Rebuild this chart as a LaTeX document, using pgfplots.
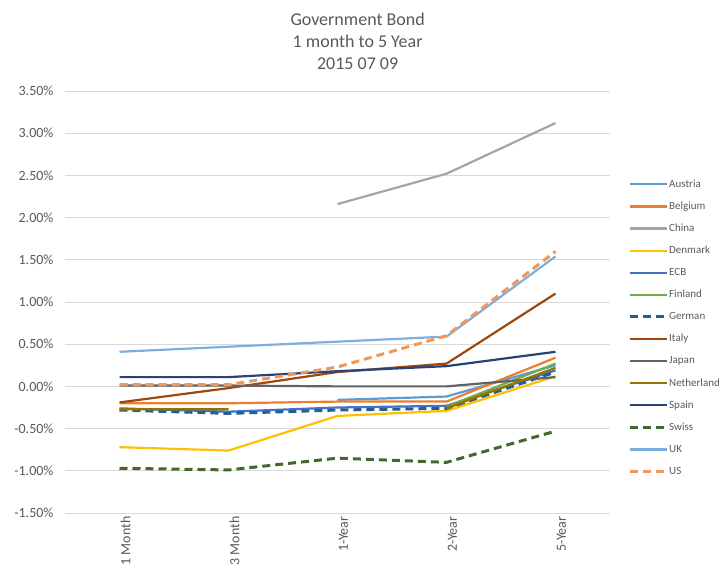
\documentclass[border=0pt]{standalone}
\usepackage{pgfplots}
\pgfplotsset{compat=1.18}
\usepackage{pgfplotstable}
\usepackage{fontspec}
\setmainfont{Carlito}
\definecolor{textgray}{HTML}{595959}
\definecolor{gridgray}{HTML}{D9D9D9}
\definecolor{cAustria}{HTML}{5B9BD5}
\definecolor{cBelgium}{HTML}{ED7D31}
\definecolor{cChina}{HTML}{A5A5A5}
\definecolor{cDenmark}{HTML}{FFC000}
\definecolor{cECB}{HTML}{4472C4}
\definecolor{cFinland}{HTML}{70AD47}
\definecolor{cGerman}{HTML}{255E91}
\definecolor{cItaly}{HTML}{9E480E}
\definecolor{cJapan}{HTML}{636363}
\definecolor{cNetherland}{HTML}{997300}
\definecolor{cSpain}{HTML}{264478}
\definecolor{cSwiss}{HTML}{43682B}
\definecolor{cUK}{HTML}{7CAFDD}
\definecolor{cUS}{HTML}{F1975A}
\pgfplotstableread{
x Austria Belgium China Denmark ECB Finland German Italy Japan Netherland Spain Swiss UK US
0 nan -0.20 nan -0.72 -0.26 nan -0.28 -0.19 0.01 -0.27 0.11 -0.97 0.41 0.02
1 nan -0.20 nan -0.76 -0.30 nan -0.32 -0.02 0.01 -0.27 0.11 -0.99 0.47 0.02
2 -0.16 -0.18 2.16 -0.35 -0.25 nan -0.28 0.17 0.00 nan 0.18 -0.85 0.53 0.23
3 -0.12 -0.18 2.52 -0.29 -0.23 -0.24 -0.26 0.27 0.00 -0.26 0.24 -0.90 0.59 0.60
4 0.25 0.34 3.12 0.12 0.19 0.27 0.17 1.10 0.11 0.22 0.41 -0.53 1.54 1.60
}\datatable
\begin{document}
\begin{tikzpicture}
\useasboundingbox (0,0) rectangle (723pt,569pt);
\begin{axis}[
  at={(65pt,56pt)}, anchor=south west,
  scale only axis, width=545pt, height=422pt,
  xmin=-0.5, xmax=4.5, ymin=-1.5, ymax=3.5,
  xtick={0,1,2,3,4},
  xticklabels={1 Month,3 Month,1-Year,2-Year,5-Year},
  ytick={-1.5,-1,-0.5,0,0.5,1,1.5,2,2.5,3,3.5},
  yticklabel={\pgfmathprintnumber[fixed,fixed zerofill,precision=2,assume math mode=true]{\tick}\%},
  yticklabel style={font=\fontsize{14}{14}\selectfont, text=textgray, xshift=-8pt},
  xticklabel style={font=\fontsize{14}{14}\selectfont, text=textgray, rotate=90, anchor=east, yshift=-6pt},
  major tick length=0pt,
  axis line style={draw=none},
  ymajorgrids, grid style={gridgray, line width=0.9pt},
  unbounded coords=jump,
  title={Government Bond\\1 month to 5 Year\\2015 07 09},
  title style={at={(rel axis cs:0.537,1)}, anchor=south, yshift=12pt, align=center, font=\fontsize{18}{22}\selectfont, text=textgray},
  legend cell align=left,
  legend image code/.code={\draw[#1] (0pt,0pt) -- (37pt,0pt);},
  legend style={at={(1.033,0.794)}, anchor=north west, draw=none, fill=none, inner sep=0pt,
    font=\fontsize{11}{13}\selectfont, text=textgray, row sep=9.6pt,
    nodes={inner sep=1pt, text height=8pt, text depth=2.5pt}},
  every axis plot/.append style={line width=2.2pt, line join=round},
]
\addplot[cAustria] table[x=x,y=Austria]{\datatable};
\addlegendentry{Austria}
\addplot[cBelgium] table[x=x,y=Belgium]{\datatable};
\addlegendentry{Belgium}
\addplot[cChina] table[x=x,y=China]{\datatable};
\addlegendentry{China}
\addplot[cDenmark] table[x=x,y=Denmark]{\datatable};
\addlegendentry{Denmark}
\addplot[cECB] table[x=x,y=ECB]{\datatable};
\addlegendentry{ECB}
\addplot[cFinland] table[x=x,y=Finland]{\datatable};
\addlegendentry{Finland}
\addplot[cGerman, line width=3pt, dash pattern=on 8pt off 5pt] table[x=x,y=German]{\datatable};
\addlegendentry{German}
\addplot[cItaly] table[x=x,y=Italy]{\datatable};
\addlegendentry{Italy}
\addplot[cJapan] table[x=x,y=Japan]{\datatable};
\addlegendentry{Japan}
\addplot[cNetherland] table[x=x,y=Netherland]{\datatable};
\addlegendentry{Netherland}
\addplot[cSpain] table[x=x,y=Spain]{\datatable};
\addlegendentry{Spain}
\addplot[cSwiss, line width=3pt, dash pattern=on 8pt off 5pt] table[x=x,y=Swiss]{\datatable};
\addlegendentry{Swiss}
\addplot[cUK] table[x=x,y=UK]{\datatable};
\addlegendentry{UK}
\addplot[cUS, line width=3pt, dash pattern=on 8pt off 5pt] table[x=x,y=US]{\datatable};
\addlegendentry{US}
\end{axis}
\end{tikzpicture}
\end{document}
